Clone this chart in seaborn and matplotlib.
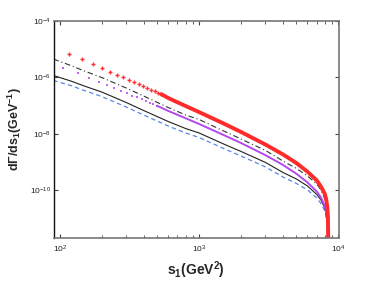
import numpy as np
import pandas as pd
import matplotlib
matplotlib.use("Agg")
import matplotlib.pyplot as plt
import seaborn as sns
from matplotlib.ticker import LogLocator, NullFormatter, FixedLocator, LogFormatterSciNotation, NullLocator

# s1 sample points (GeV^2) for the line curves
s_line = [90, 120, 150, 200, 300, 400, 600, 800, 1000, 1500, 2000, 3000,
          4000, 5000, 6000, 7000, 7500, 8000, 8200, 8350, 8450]

black_solid = [1.17e-6, 7.45e-7, 4.95e-7, 3.03e-7, 1.29e-7, 6.70e-8, 2.73e-8,
               1.54e-8, 1.07e-8, 4.35e-9, 2.36e-9, 9.6e-10, 4.25e-10, 2.49e-10,
               1.41e-10, 7.05e-11, 4.49e-11, 2.34e-11, 1.32e-11, 5.83e-12, 1e-13]
blue_dashed = [7.76e-7, 5.16e-7, 3.43e-7, 2.10e-7, 8.91e-8, 4.64e-8, 1.89e-8,
               1.07e-8, 7.39e-9, 3.01e-9, 1.63e-9, 6.65e-10, 2.94e-10, 1.73e-10,
               1.02e-10, 5.28e-11, 3.37e-11, 1.83e-11, 1.03e-11, 4.95e-12, 1e-13]
black_dashdot = [4.49e-6, 2.64e-6, 1.69e-6, 9.91e-7, 4.21e-7, 2.19e-7, 8.57e-8,
                 4.65e-8, 3.22e-8, 1.26e-8, 6.54e-9, 2.56e-9, 1.08e-9, 5.89e-10,
                 3.19e-10, 1.66e-10, 1.02e-10, 4.88e-11, 2.54e-11, 1.03e-11, 1e-13]

# magenta: sparse markers at low s, then a continuous line
s_mag_dots = [106, 134, 162, 190, 218, 246, 274, 302, 330, 358, 386, 414, 442, 470, 498]
mag_dots = [2.21e-6, 1.39e-6, 9.44e-7, 6.87e-7, 5.25e-7, 4.11e-7, 3.29e-7, 2.73e-7,
            2.28e-7, 1.94e-7, 1.66e-7, 1.44e-7, 1.27e-7, 1.12e-7, 9.91e-8]
s_mag_line = [498, 600, 800, 1000, 1500, 2000, 3000, 4000, 5000, 6000, 7000,
              7500, 8000, 8200, 8350, 8450]
mag_line = [9.91e-8, 6.49e-8, 3.57e-8, 2.23e-8, 9.06e-9, 4.72e-9, 1.74e-9,
            7.89e-10, 3.82e-10, 1.88e-10, 9.0e-11, 5.51e-11, 2.75e-11, 1.55e-11,
            7.45e-12, 1e-13]

# red: sparse markers at low s, then a thick band
s_red_dots = [116, 144, 172, 200, 228, 256, 284, 312, 340, 368, 396, 424, 452, 480, 508, 536]
red_dots = [6.92e-6, 4.35e-6, 2.96e-6, 2.14e-6, 1.62e-6, 1.26e-6, 1.00e-6, 8.15e-7,
            6.81e-7, 5.74e-7, 4.88e-7, 4.21e-7, 3.66e-7, 3.21e-7, 2.84e-7, 2.54e-7]
s_red_line = [536, 600, 800, 1000, 1500, 2000, 3000, 4000, 5000, 6000, 7000,
              7500, 8000, 8200, 8350, 8420, 8460, 8470]
red_line = [2.54e-7, 1.86e-7, 9.68e-8, 5.89e-8, 2.32e-8, 1.16e-8, 4.14e-9,
            1.86e-9, 9.15e-10, 4.53e-10, 2.21e-10, 1.35e-10, 7.33e-11, 4.49e-11,
            2.23e-11, 1.12e-11, 3.03e-12, 1e-13]

y_ticks = [1e-4, 1e-6, 1e-8, 1e-10]
x_ticks = [1e2, 1e3, 1e4]

sns.set_style("ticks")
plt.rcParams['font.family'] = ['Liberation Sans', 'DejaVu Sans']
plt.rcParams['mathtext.fontset'] = 'custom'
plt.rcParams['mathtext.rm'] = 'Liberation Sans'
plt.rcParams['mathtext.it'] = 'Liberation Sans'
plt.rcParams['mathtext.bf'] = 'Liberation Sans:bold'

fig = plt.figure(figsize=(3.74, 2.81), dpi=100)
ax = fig.add_axes([0.144, 0.153, 0.762, 0.772])

lines = pd.DataFrame({'s': s_line, 'black': black_solid, 'blue': blue_dashed,
                      'dashdot': black_dashdot})

sns.lineplot(data=lines, x='s', y='blue', ax=ax, color='#5a86e6', lw=0.9,
             linestyle=(0, (3.5, 2.5)), estimator=None, sort=False)
sns.lineplot(data=lines, x='s', y='black', ax=ax, color='#222222', lw=0.8,
             estimator=None, sort=False)
sns.lineplot(data=lines, x='s', y='dashdot', ax=ax, color='#333333', lw=0.8,
             linestyle=(0, (5, 2.5, 1, 2.5)), estimator=None, sort=False)

mag_l = pd.DataFrame({'s': s_mag_line, 'y': mag_line})
sns.lineplot(data=mag_l, x='s', y='y', ax=ax, color='#b348f0', lw=1.4,
             estimator=None, sort=False)
mag_d = pd.DataFrame({'s': s_mag_dots, 'y': mag_dots})
sns.scatterplot(data=mag_d, x='s', y='y', ax=ax, color='#c466f5', marker='s',
                s=4, linewidth=0)

red_l = pd.DataFrame({'s': s_red_line, 'y': red_line})
sns.lineplot(data=red_l, x='s', y='y', ax=ax, color='#ff2a2a', lw=2.8,
             estimator=None, sort=False)
red_d = pd.DataFrame({'s': s_red_dots, 'y': red_dots})
sns.scatterplot(data=red_d, x='s', y='y', ax=ax, color='#ff3333', marker='+',
                s=12, linewidth=1.0)

ax.set_xscale('log')
ax.set_yscale('log')
ax.set_xlim(90.6, 10090)
ax.set_ylim(2.0e-12, 1e-4)

ax.xaxis.set_major_locator(FixedLocator(x_ticks))
ax.xaxis.set_major_formatter(LogFormatterSciNotation())
ax.xaxis.set_minor_locator(LogLocator(base=10, subs=np.arange(2, 10)))
ax.xaxis.set_minor_formatter(NullFormatter())
ax.yaxis.set_major_locator(FixedLocator(y_ticks))
ax.yaxis.set_major_formatter(LogFormatterSciNotation())
ax.yaxis.set_minor_locator(NullLocator())

ax.tick_params(which='both', direction='in', top=True, right=True,
               labelsize=6, colors='#444444', labelcolor='#222222')
ax.tick_params(which='major', length=3, width=0.8)
ax.tick_params(which='minor', length=2, width=0.6)
ax.tick_params(axis='y', pad=2)
ax.tick_params(axis='x', pad=4)

for side in ['top', 'right', 'bottom']:
    ax.spines[side].set_color('#777777')
    ax.spines[side].set_linewidth(1.2)
ax.spines['left'].set_color('#111111')
ax.spines['left'].set_linewidth(1.0)

ax.set_xlabel(r'$\mathbf{s_1(GeV^2)}$', fontsize=10, labelpad=3)
ax.set_ylabel(r'$\mathbf{d\Gamma/ds_1(GeV^{-1})}$', fontsize=9, labelpad=4)

fig.savefig('out.png', dpi=100)
plt.close(fig)
